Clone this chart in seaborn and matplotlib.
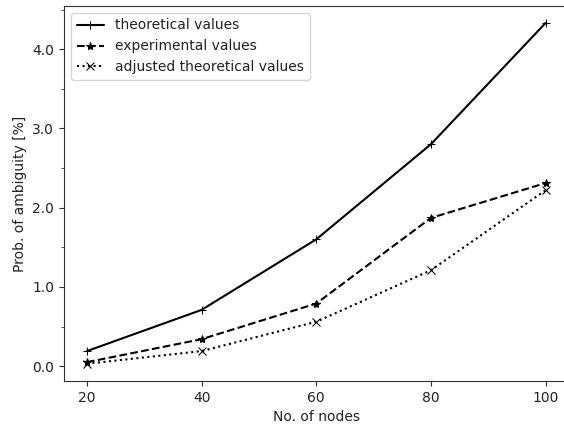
import pandas as pd
import numpy as np
import matplotlib
matplotlib.use("Agg")
import matplotlib.pyplot as plt
import seaborn as sns
from matplotlib.ticker import MultipleLocator, FormatStrFormatter

# values
nodes = [20, 40, 60, 80, 100]
theoretical = [0.19, 0.71, 1.60, 2.80, 4.33]
experimental = [0.05, 0.34, 0.79, 1.87, 2.31]
adjusted = [0.03, 0.19, 0.56, 1.21, 2.22]

sns.set_style("ticks")
plt.rcParams["font.family"] = ["DejaVu Sans"]
plt.rcParams["text.color"] = "#222222"

fig = plt.figure(figsize=(5.64, 4.25), dpi=100)
ax = fig.add_subplot(111)
# the reference is cropped on the right, so the axes run past the edge
fig.subplots_adjust(left=0.1135, right=1.008, bottom=0.104, top=0.986)

sns.lineplot(x=nodes, y=theoretical, ax=ax, color="black", linestyle="-",
             marker="+", markersize=6, markeredgecolor="black",
             label="theoretical values")
sns.lineplot(x=nodes, y=experimental, ax=ax, color="black", linestyle="--",
             marker="*", markersize=6, markeredgecolor="black",
             label="experimental values")
sns.lineplot(x=nodes, y=adjusted, ax=ax, color="black", linestyle=":",
             marker="x", markersize=6, markeredgecolor="black",
             label="adjusted theoretical values")

ax.set_xticks(nodes)
ax.yaxis.set_major_locator(MultipleLocator(1.0))
ax.yaxis.set_minor_locator(MultipleLocator(0.5))
ax.yaxis.set_major_formatter(FormatStrFormatter("%.1f"))
ax.set_xlabel("No. of nodes", color="#222222")
ax.set_ylabel("Prob. of ambiguity [%]", color="#222222")
ax.legend(loc="upper left")
for s in ax.spines.values():
    s.set_color("#333333")
ax.spines["right"].set_visible(False)
ax.tick_params(colors="#333333", labelcolor="#222222", which="both")

plt.savefig("out.png", dpi=100)
